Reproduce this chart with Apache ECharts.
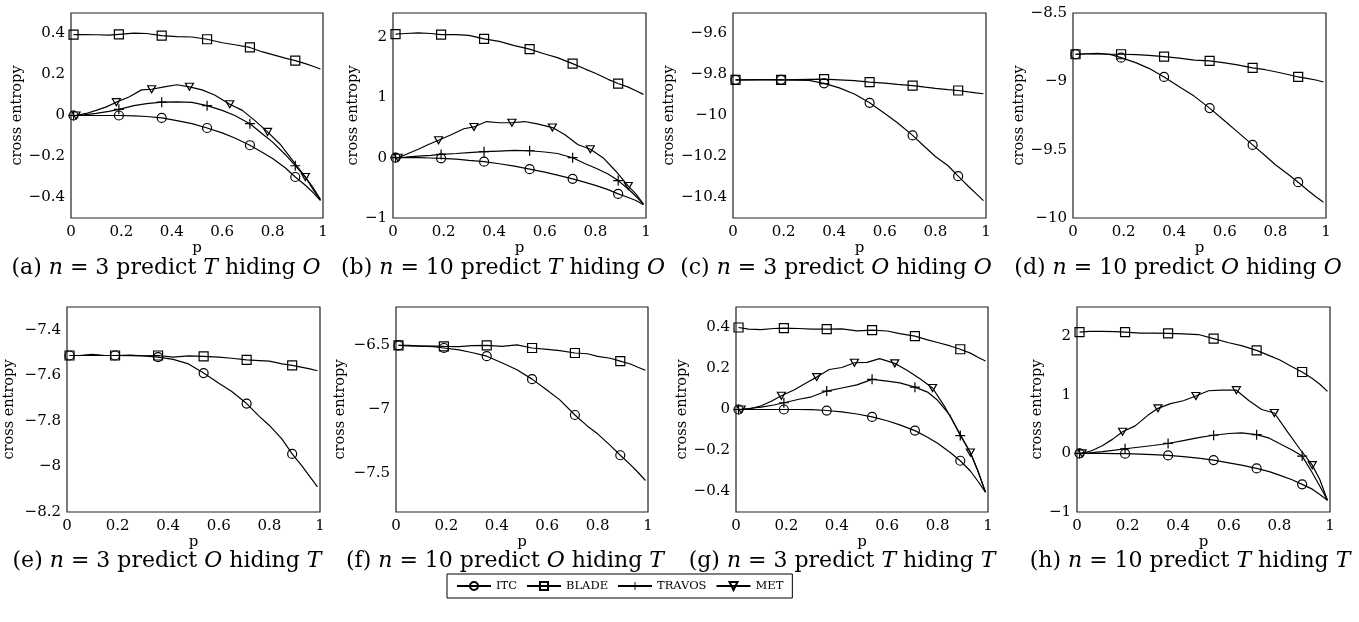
<!DOCTYPE html>
<html><head><meta charset="utf-8">
<script src="https://cdn.jsdelivr.net/npm/echarts@6/dist/echarts.min.js"></script>
<style>html,body{margin:0;padding:0;background:#fff}#c{width:1359px;height:622px}</style>
</head><body><div id="c"></div>
<script>
// ---------- data ----------
const pMain = [0.01,0.05,0.1,0.15,0.19,0.25,0.3,0.36,0.42,0.48,0.54,0.6,0.65,0.71,0.76,0.8,0.85,0.89,0.93,0.96,0.99];
const pMet  = [0.02,0.06,0.1,0.14,0.18,0.23,0.28,0.32,0.37,0.42,0.47,0.52,0.57,0.63,0.68,0.73,0.78,0.83,0.88,0.93,0.96,0.99];
const markMain = [0.01,0.19,0.36,0.54,0.71,0.89];
const markMet  = [0.02,0.18,0.32,0.47,0.63,0.78,0.93];
const xTicks = [0,0.2,0.4,0.6,0.8,1];

// (a) n=3 predict T hiding O
const itcA    = [0,0,0,0,0,-0.002,-0.005,-0.012,-0.025,-0.04,-0.061,-0.085,-0.11,-0.145,-0.18,-0.21,-0.255,-0.3,-0.34,-0.375,-0.415];
const bladeA  = [0.395,0.395,0.394,0.392,0.396,0.402,0.4,0.39,0.385,0.383,0.372,0.355,0.345,0.332,0.31,0.297,0.28,0.268,0.253,0.24,0.227];
const travosA = [0,0.003,0.01,0.02,0.03,0.048,0.058,0.065,0.066,0.064,0.048,0.025,0,-0.04,-0.09,-0.13,-0.19,-0.245,-0.3,-0.36,-0.41];
const metA    = [0,0.01,0.025,0.042,0.065,0.09,0.125,0.128,0.14,0.15,0.14,0.125,0.1,0.055,0.025,-0.025,-0.08,-0.14,-0.22,-0.3,-0.35,-0.41];
const yTicksA = [-0.4,-0.2,0,0.2,0.4];
// (b) n=10 predict T hiding O
const itcB    = [0,0,0,-0.005,-0.01,-0.025,-0.045,-0.066,-0.1,-0.14,-0.19,-0.24,-0.29,-0.35,-0.41,-0.46,-0.53,-0.6,-0.66,-0.71,-0.78];
const bladeB  = [2.05,2.06,2.07,2.06,2.04,2.04,2.03,1.97,1.93,1.86,1.8,1.72,1.66,1.56,1.47,1.4,1.3,1.23,1.17,1.11,1.05];
const travosB = [0,0.01,0.025,0.04,0.055,0.07,0.085,0.1,0.11,0.12,0.115,0.095,0.07,0,-0.1,-0.17,-0.27,-0.38,-0.52,-0.64,-0.77];
const metB    = [0,0.07,0.14,0.22,0.29,0.38,0.48,0.51,0.6,0.58,0.58,0.6,0.56,0.5,0.38,0.22,0.14,0,-0.22,-0.47,-0.6,-0.77];
const yTicksB = [-1,0,1,2];
// (c) n=3 predict O hiding O
const itcC    = [-9.826,-9.826,-9.826,-9.826,-9.826,-9.827,-9.829,-9.843,-9.865,-9.895,-9.938,-9.99,-10.035,-10.097,-10.155,-10.2,-10.245,-10.296,-10.345,-10.38,-10.415];
const bladeC  = [-9.826,-9.826,-9.825,-9.825,-9.826,-9.825,-9.824,-9.823,-9.826,-9.83,-9.837,-9.842,-9.848,-9.854,-9.862,-9.868,-9.874,-9.878,-9.885,-9.89,-9.894];
const yTicksC = [-10.4,-10.2,-10,-9.8,-9.6];
// (d) n=10 predict O hiding O
const itcD    = [-8.802,-8.798,-8.795,-8.805,-8.827,-8.865,-8.905,-8.968,-9.04,-9.11,-9.196,-9.29,-9.37,-9.465,-9.545,-9.61,-9.68,-9.738,-9.8,-9.845,-9.884];
const bladeD  = [-8.802,-8.8,-8.8,-8.802,-8.802,-8.805,-8.81,-8.819,-8.83,-8.845,-8.851,-8.865,-8.88,-8.901,-8.915,-8.93,-8.95,-8.968,-8.98,-8.99,-9.005];
const yTicksD = [-10,-9.5,-9,-8.5];
// (e) n=3 predict O hiding T
const itcE    = [-7.513,-7.513,-7.512,-7.513,-7.513,-7.514,-7.515,-7.52,-7.53,-7.55,-7.59,-7.635,-7.67,-7.724,-7.78,-7.82,-7.88,-7.945,-8,-8.045,-8.09];
const bladeE  = [-7.513,-7.513,-7.508,-7.513,-7.513,-7.511,-7.514,-7.513,-7.52,-7.515,-7.517,-7.52,-7.525,-7.532,-7.535,-7.538,-7.55,-7.556,-7.565,-7.572,-7.58];
const yTicksE = [-8.2,-8,-7.8,-7.6,-7.4];
// (f) n=10 predict O hiding T
const itcF    = [-6.5,-6.5,-6.505,-6.51,-6.52,-6.535,-6.555,-6.584,-6.635,-6.69,-6.763,-6.85,-6.925,-7.043,-7.13,-7.19,-7.28,-7.357,-7.43,-7.49,-7.554];
const bladeF  = [-6.5,-6.503,-6.505,-6.505,-6.508,-6.51,-6.502,-6.5,-6.507,-6.495,-6.52,-6.53,-6.54,-6.559,-6.565,-6.585,-6.6,-6.622,-6.645,-6.67,-6.694];
const yTicksF = [-7.5,-7,-6.5];
// (g) n=3 predict T hiding T
const itcG    = [0,0,0,0,0,0,-0.001,-0.005,-0.012,-0.022,-0.036,-0.055,-0.075,-0.103,-0.135,-0.165,-0.21,-0.25,-0.3,-0.35,-0.403];
const bladeG  = [0.4,0.392,0.39,0.395,0.397,0.395,0.392,0.392,0.393,0.384,0.387,0.383,0.37,0.358,0.34,0.327,0.31,0.294,0.275,0.255,0.237];
const travosG = [0,0.005,0.012,0.022,0.033,0.05,0.062,0.09,0.105,0.12,0.147,0.138,0.13,0.109,0.085,0.045,-0.03,-0.127,-0.21,-0.3,-0.403];
const metG    = [0,0.005,0.018,0.04,0.067,0.095,0.13,0.158,0.195,0.205,0.228,0.23,0.248,0.225,0.19,0.15,0.105,0.01,-0.1,-0.21,-0.3,-0.403];
const yTicksG = [-0.4,-0.2,0,0.2,0.4];
// (h) n=10 predict T hiding T
const itcH    = [0,0,0,-0.002,-0.005,-0.012,-0.02,-0.034,-0.055,-0.08,-0.114,-0.16,-0.2,-0.256,-0.31,-0.37,-0.45,-0.528,-0.61,-0.7,-0.8];
const bladeH  = [2.07,2.085,2.085,2.08,2.07,2.055,2.055,2.05,2.04,2.03,1.96,1.89,1.84,1.76,1.67,1.6,1.48,1.39,1.28,1.18,1.06];
const travosH = [0,0.01,0.03,0.055,0.08,0.11,0.135,0.17,0.22,0.27,0.31,0.34,0.35,0.32,0.26,0.17,0.06,-0.045,-0.33,-0.56,-0.8];
const metH    = [0,0.05,0.13,0.24,0.37,0.47,0.65,0.77,0.85,0.9,0.98,1.07,1.08,1.08,0.9,0.75,0.69,0.38,0.08,-0.2,-0.45,-0.8];
const yTicksH = [-1,0,1,2];

const captionLetters = ['a','b','c','d','e','f','g','h'];
const captionN = ['3','10','3','10','3','10','3','10'];
const captionPredict = ['T','T','O','O','O','O','T','T'];
const captionHiding = ['O','O','O','O','T','T','T','T'];
const seriesNames = ['ITC','BLADE','TRAVOS','MET'];

// ---------- layout ----------
const FONT = 'DejaVu Serif';
const panels = [
  {grid:[71,13,252,205],  y:[-0.5,0.5],    ticks:yTicksA, gap:38, xg:21, s:[itcA,bladeA,travosA,metA], cap:[166,268]},
  {grid:[393,13,253,205], y:[-1,2.4],      ticks:yTicksB, gap:29, xg:21, s:[itcB,bladeB,travosB,metB], cap:[503,268]},
  {grid:[733,13,253,205], y:[-10.5,-9.5],  ticks:yTicksC, gap:47, xg:21, s:[itcC,bladeC,null,null],     cap:[836,268]},
  {grid:[1073,13,253,205],y:[-10,-8.5],    ticks:yTicksD, gap:46, xg:21, s:[itcD,bladeD,null,null],     cap:[1178,268]},
  {grid:[67,307,253,205], y:[-8.2,-7.3],   ticks:yTicksE, gap:50, xg:18, s:[itcE,bladeE,null,null],     cap:[167,561]},
  {grid:[396,307,252,205],y:[-7.8,-6.2],   ticks:yTicksF, gap:48, xg:18, s:[itcF,bladeF,null,null],     cap:[505,561]},
  {grid:[736,307,252,205],y:[-0.5,0.5],    ticks:yTicksG, gap:38, xg:18, s:[itcG,bladeG,travosG,metG], cap:[842,561]},
  {grid:[1077,307,253,205],y:[-1,2.5],     ticks:yTicksH, gap:27, xg:18, s:[itcH,bladeH,travosH,metH], cap:[1190,561]}
];

const symbols = {
  ITC: {symbol:'circle', size:9},
  BLADE: {symbol:'rect', size:9},
  TRAVOS: {symbol:'path://M4.4,0H5.6V4.4H10V5.6H5.6V10H4.4V5.6H0V4.4H4.4Z', size:10},
  MET: {symbol:'path://M0,0L10,0L5,8.7Z', size:[8,7]}
};

function fmt(v){
  let s = String(Math.round(v*100)/100);
  if (s === '-0') s = '0';
  return s.replace('-', '\u2212');
}

const grids=[], xAxes=[], yAxes=[], series=[], graphics=[];
panels.forEach((P,i)=>{
  grids.push({left:P.grid[0], top:P.grid[1], width:P.grid[2], height:P.grid[3], show:true, borderColor:'#222', borderWidth:1.2, backgroundColor:'transparent'});
  xAxes.push({type:'value', gridIndex:i, min:0, max:1, name:'p', nameLocation:'middle', nameGap:P.xg,
    nameTextStyle:{fontFamily:FONT, fontSize:15, color:'#000'},
    axisLine:{show:false}, axisTick:{show:false}, splitLine:{show:false},
    axisLabel:{customValues:xTicks, formatter:fmt, fontFamily:FONT, fontSize:15, color:'#000', margin:7}});
  yAxes.push({type:'value', gridIndex:i, min:P.y[0], max:P.y[1], name:'cross entropy', nameLocation:'middle', nameGap:P.gap, nameRotate:90,
    nameTextStyle:{fontFamily:FONT, fontSize:14.5, color:'#000'},
    axisLine:{show:false}, axisTick:{show:false}, splitLine:{show:false},
    axisLabel:{customValues:P.ticks, formatter:fmt, fontFamily:FONT, fontSize:15, color:'#000', margin:6}});
  P.s.forEach((ys,k)=>{
    if(!ys) return;
    const name = seriesNames[k];
    const xs = name==='MET' ? pMet : pMain;
    const marks = name==='MET' ? markMet : markMain;
    const sym = symbols[name];
    series.push({
      type:'line', name, xAxisIndex:i, yAxisIndex:i,
      symbol:sym.symbol, symbolSize:sym.size, showSymbol:true, showAllSymbol:true,
      lineStyle:{color:'#000', width:1.2},
      itemStyle:{color: name==='TRAVOS' ? '#000' : 'rgba(255,255,255,0)', borderColor:'#000', borderWidth: name==='TRAVOS'?0:1.2},
      emphasis:{disabled:true}, silent:true, animation:false,
      data: xs.map((x,j)=> marks.includes(x) ? {value:[x,ys[j]]} : {value:[x,ys[j]], symbol:'none'})
    });
  });
  graphics.push({type:'text', x:P.cap[0], y:P.cap[1], style:{
    text:'{r|('+captionLetters[i]+') }{i|n}{r| = '+captionN[i]+' predict }{i|'+captionPredict[i]+'}{r| hiding }{i|'+captionHiding[i]+'}',
    align:'center', verticalAlign:'middle',
    rich:{r:{fontFamily:FONT, fontSize:22, fill:'#000'}, i:{fontFamily:FONT, fontSize:22, fontStyle:'italic', fill:'#000'}}
  }});
});

const chart = echarts.init(document.getElementById('c'), null, {renderer:'canvas'});
chart.setOption({
  backgroundColor:'#fff',
  animation:false,
  grid:grids, xAxis:xAxes, yAxis:yAxes, series,
  legend:{data:seriesNames, left:447, top:574, orient:'horizontal', selectedMode:false,
    itemWidth:34, itemHeight:10, itemGap:9, padding:[6,9],
    borderColor:'#000', borderWidth:1, backgroundColor:'#fff',
    textStyle:{fontFamily:FONT, fontSize:11.5, color:'#000'}},
  graphic:graphics
});
</script></body></html>
